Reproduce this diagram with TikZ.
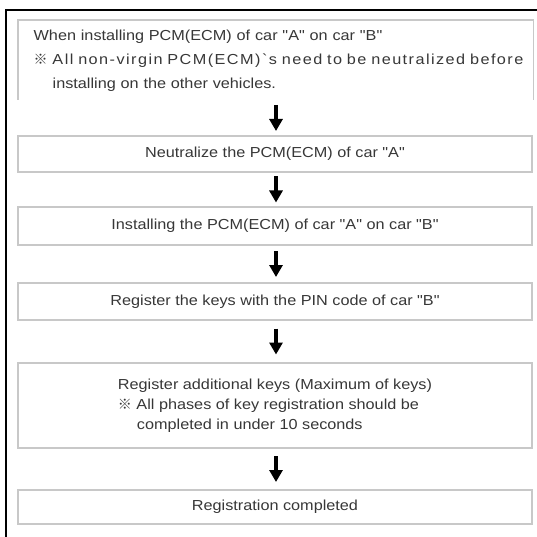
\documentclass[tikz,border=0pt]{standalone}
\usepackage{fontspec}
\setmainfont{Liberation Sans}[Ligatures=TeXOff, FakeStretch=1.12]
\newfontfamily\cjkfont{Noto Sans CJK JP}
\usetikzlibrary{arrows.meta, calc}
\definecolor{boxgray}{RGB}{200,200,200}
\definecolor{textgray}{RGB}{55,55,55}
\newcommand{\notemark}{{\cjkfont\fontsize{14}{14}\selectfont ※}}
\tikzset{
  stepnode/.style={draw=boxgray, line width=1.3pt, minimum width=514pt, text=textgray,
    font=\fontsize{14.5}{20}\selectfont, inner xsep=15pt},
  boxline/.style={draw=boxgray, line width=1.3pt},
  flowarrow/.style={line width=4.5pt, -{Triangle[width=13pt,length=12pt]}},
}
\begin{document}
\begin{tikzpicture}[x=1pt, y=-1pt]
    \useasboundingbox (0,0) rectangle (536,537);
    % outer frame
    \draw[line width=2pt] (6,560) -- (6,10) -- (560,10);
    % first box, open at the bottom
    \node[stepnode, draw=none, anchor=north west, align=left, text width=484pt, inner ysep=9.5pt, font=\fontsize{14.5}{24}\selectfont] (start) at (18,20)
        {When installing PCM(ECM) of car "A" on car "B"\\
         \mbox{\notemark{} \addfontfeature{LetterSpace=10}All non-virgin PCM(ECM)`s need to be neutralized before}\\
         \hspace*{19pt}installing on the other vehicles.};
    \coordinate (startend) at (275,100);
    \draw[boxline] (start.north west |- startend) -- (start.north west) -- (start.north east) -- (start.north east |- startend);
    \node[stepnode, minimum height=36pt] (neutral) at (275,154) {Neutralize the PCM(ECM) of car "A"};
    \node[stepnode, minimum height=38pt] (install) at (275,226) {Installing the PCM(ECM) of car "A" on car "B"};
    \node[stepnode, minimum height=37pt] (register) at (275,301.5) {Register the keys with the PIN code of car "B"};
    \node[stepnode, minimum height=85pt, align=left] (addkeys) at (275,405.5)
        {Register additional keys (Maximum of keys)\\
         \notemark{} All phases of key registration should be\\
         \hspace*{19pt}completed in under 10 seconds};
    \node[stepnode, minimum height=34pt] (done) at (275,507) {Registration completed};
    % arrows
    \draw[flowarrow] ($(startend)+(1,0)$) ++(0,5) -- ++(0,26);
    \foreach \a/\b in {neutral/install, install/register, register/addkeys, addkeys/done}
        \draw[flowarrow] ($(\a.south)!0.5!(\b.north)+(1,-13)$) -- ++(0,26);
\end{tikzpicture}
\end{document}
